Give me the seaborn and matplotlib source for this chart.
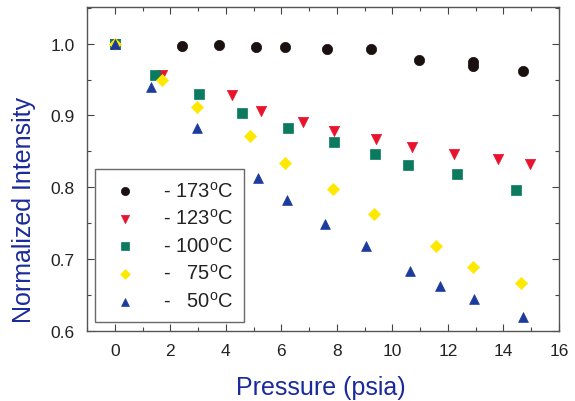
import matplotlib
matplotlib.use("Agg")
import matplotlib.pyplot as plt
import seaborn as sns
import pandas as pd
from matplotlib.ticker import MultipleLocator

sns.set_theme(style="ticks")
plt.rcParams['font.family'] = ['Liberation Sans', 'DejaVu Sans']
plt.rcParams['mathtext.fontset'] = 'custom'
plt.rcParams['mathtext.rm'] = 'Liberation Sans'
plt.rcParams['mathtext.it'] = 'Liberation Sans'

series_labels = ["173", "123", "100", "75", "50"]

x_173 = [0.0, 2.42, 3.76, 5.10, 6.12, 7.64, 9.23, 10.94, 12.91, 12.91, 14.71]
y_173 = [1.000, 0.997, 0.998, 0.996, 0.995, 0.993, 0.992, 0.977, 0.975, 0.969, 0.962]

x_123 = [0.0, 1.71, 4.22, 5.26, 6.79, 7.89, 9.42, 10.72, 12.21, 13.80, 14.97]
y_123 = [1.000, 0.957, 0.929, 0.906, 0.891, 0.878, 0.867, 0.856, 0.846, 0.840, 0.832]

x_100 = [0.0, 1.44, 3.04, 4.57, 6.23, 7.89, 9.36, 10.55, 12.32, 14.44]
y_100 = [1.000, 0.957, 0.930, 0.904, 0.883, 0.863, 0.846, 0.831, 0.818, 0.796]

x_75 = [0.0, 1.71, 2.95, 4.88, 6.12, 7.87, 9.34, 11.56, 12.92, 14.63]
y_75 = [1.000, 0.950, 0.912, 0.872, 0.834, 0.798, 0.763, 0.718, 0.689, 0.667]

x_50 = [0.0, 1.32, 2.95, 5.17, 6.21, 7.56, 9.04, 10.64, 11.73, 12.93, 14.69]
y_50 = [1.000, 0.940, 0.882, 0.8125, 0.782, 0.749, 0.718, 0.684, 0.662, 0.645, 0.620]

xs = [x_173, x_123, x_100, x_75, x_50]
ys = [y_173, y_123, y_100, y_75, y_50]
markers = ["o", "v", "s", "D", "^"]
colors = ["#1a1010", "#e8142e", "#0b7a5e", "#ffe800", "#1c3b9c"]
sizes = [55, 55, 45, 38, 50]

fig = plt.figure(figsize=(5.75, 4.02), dpi=100)
ax = fig.add_axes([87/575, 1 - 332/402, (559-87)/575, (332-8)/402])

for lab, x, y, m, c, s in zip(series_labels, xs, ys, markers, colors, sizes):
    df = pd.DataFrame({"Pressure": x, "Intensity": y})
    pad = "" if len(lab) == 3 else "  "
    sns.scatterplot(data=df, x="Pressure", y="Intensity", ax=ax, marker=m,
                    color=c, s=s, edgecolor=c, linewidth=0.5,
                    label=f"- {pad}{lab}$^{{\\mathrm{{o}}}}$C", zorder=3)

ax.set_xlim(-1, 16)
ax.set_ylim(0.6, 1.051)
ax.xaxis.set_major_locator(MultipleLocator(2))
ax.xaxis.set_minor_locator(MultipleLocator(1))
ax.yaxis.set_major_locator(MultipleLocator(0.1))
ax.yaxis.set_minor_locator(MultipleLocator(0.05))
ax.yaxis.set_major_formatter(matplotlib.ticker.FormatStrFormatter('%.1f'))
ax.tick_params(which='both', direction='in', top=True, right=True,
               colors='#444444')
ax.tick_params(which='major', length=5, width=0.8, pad=9, labelsize=12.5,
               labelcolor='#222222')
ax.tick_params(which='minor', length=3, width=0.8)
for sp in ax.spines.values():
    sp.set_color('#555555')
    sp.set_linewidth(1.0)

ax.set_xlabel("Pressure (psia)", fontsize=18, color='#1a2a9a')
ax.set_ylabel("Normalized Intensity", fontsize=18, color='#1a2a9a')
ax.xaxis.set_label_coords((321 - 87) / 472, -(388 - 332) / 324)
ax.yaxis.set_label_coords(-(87 - 24) / 472, (332 - 210) / 324)
ax.xaxis.label.set_va('center')
ax.yaxis.label.set_va('center')

leg = ax.legend(loc='lower left', bbox_to_anchor=(0.018, 0.028), fontsize=14.5,
                frameon=True, fancybox=False, edgecolor='#444444',
                labelspacing=0.38, handletextpad=1.0, borderpad=0.55,
                handlelength=1.8, markerscale=0.8, borderaxespad=0)
leg.get_frame().set_linewidth(1.0)
for t in leg.get_texts():
    t.set_color('#222222')

fig.savefig("out.png", dpi=100)
